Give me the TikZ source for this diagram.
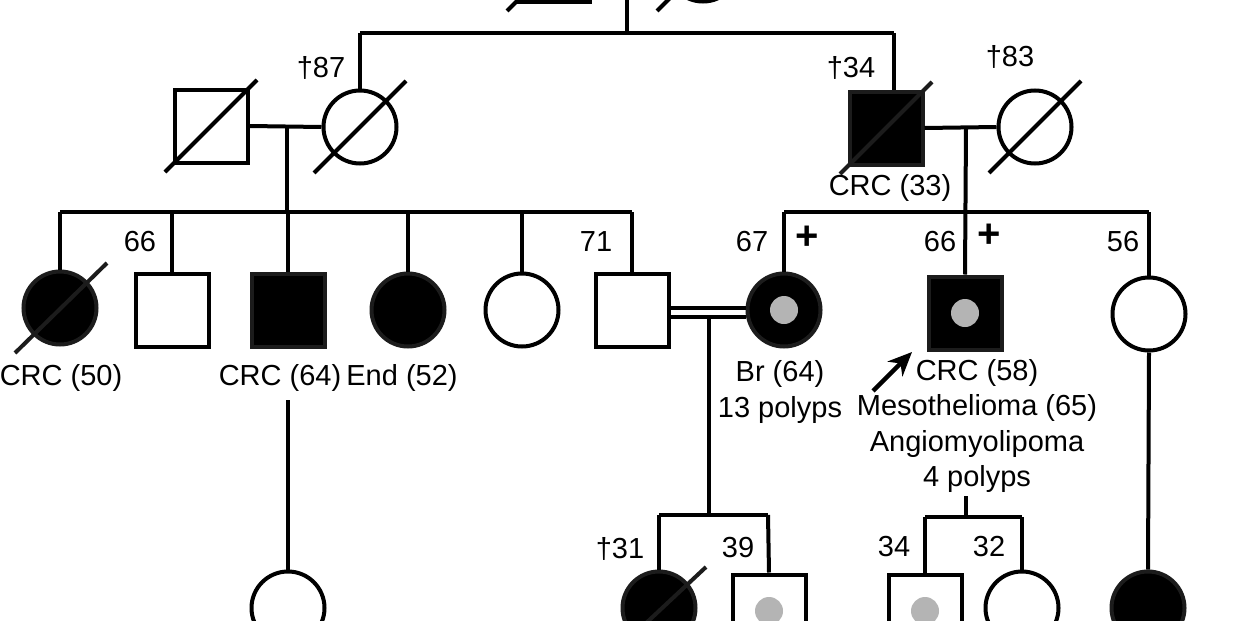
\documentclass[tikz,border=0pt]{standalone}
\usepackage{fontspec}
\setmainfont{Liberation Sans}
\usetikzlibrary{calc,arrows.meta}
\definecolor{dotgray}{HTML}{B4B4B4}
\definecolor{edge}{HTML}{1C1C1C}
\newcommand\dslash[1]{\draw[ln] ($(#1.center)+(-46,46)$) -- ($(#1.center)+(46,-46)$);}
\begin{document}
\begin{tikzpicture}[x=1pt,y=-1pt,
  ln/.style={line width=4pt},
  male/.style={draw, rectangle, minimum size=73pt, inner sep=0pt, line width=4pt, fill=white},
  female/.style={draw, circle, minimum size=73pt, inner sep=0pt, line width=4pt, fill=white},
  aff/.style={fill=black, draw=edge},
  dot/.style={circle, fill=dotgray, minimum size=28pt, inner sep=0pt},
  lab/.style={font=\fontsize{29}{33}\selectfont, inner sep=0pt},
  plus/.style={font=\fontsize{40}{42}\selectfont\bfseries, inner sep=0pt},
]
\useasboundingbox (0,0) rectangle (1242,621);
\clip (0,0) rectangle (1242,621);

% Generation I (cut off at top)
\node[male] (gf) at (553,-35) {};
\node[female] (gm) at (703,-35) {};
\dslash{gf}\dslash{gm}
\draw[ln] (gf.east) -- (gm.west);
\coordinate (m0) at (627,-35);
\coordinate (s0) at (627,33);
\coordinate (s0l) at (360,33);
\coordinate (s0r) at (894,33);
\draw[ln] (m0) -- (s0);
\draw[ln] (s0l) -- (s0r);

% Generation II
\node[male] (A) at (211,126) {};
\node[female] (B) at (360,127) {};
\node[male,aff] (C) at (886,128) {};
\node[female] (D) at (1035,127) {};
\dslash{A}\dslash{B}\dslash{D}
\draw[ln, edge] ($(C.center)+(-46,46)$) -- ($(C.center)+(46,-46)$);
\draw[ln] (s0l) -- (B.north);
\draw[ln] (s0r) -- (s0r |- C.north);
\draw[ln] (A.east) -- (B.west);
\draw[ln] (C.east) -- (D.west);
\coordinate (mAB) at (287,127);
\coordinate (mCD) at (966,128);

\node[lab] (t87) at (321,68) {†87};
\node[lab] (t34) at (851,68) {†34};
\node[lab] (t83) at (1010,57) {†83};
\node[lab] (lC) at (890,188) {CRC (33)};

% Generation III
\coordinate (sl1) at (60,212);
\coordinate (sl2) at (632,212);
\coordinate (sr1) at (784,212);
\coordinate (sr2) at (1149,212);
\draw[ln] (mAB) -- (287,212);
\draw[ln] (sl1) -- (sl2);
\draw[ln] (sr1) -- (sr2);

\node[female,aff] (c1) at (60,308) {};
\node[male] (c2) at (172,310) {};
\node[male,aff] (c3) at (288,310) {};
\node[female,aff] (c4) at (408,310) {};
\node[female] (c5) at (522,310) {};
\node[male] (c6) at (632,310) {};
\node[female,aff] (c7) at (784,310) {};
\node[dot] (c7d) at (784,310) {};
\node[male,aff] (c8) at (965,313) {};
\node[dot] (c8d) at (965,313) {};
\node[female] (c9) at (1149,314) {};
\draw[ln, edge] ($(c1.center)+(-45,45)$) -- ($(c1.center)+(47,-45)$);

\foreach \n in {c1,c2,c3,c4,c5,c6}{\draw[ln] (\n.north |- sl1) -- (\n.north);}
\draw[ln] (sr1) -- (c7.north);
\draw[ln] (sr2) -- (c9.north);
\draw[ln] (mCD) -- (c8.north);

% consanguineous union
\draw[ln] ([yshift=2.5pt]c6.east) -- ([yshift=2.5pt]c7.west);
\draw[ln] ([yshift=-6.5pt]c6.east) -- ([yshift=-6.5pt]c7.west);
\coordinate (m67) at (709,316.5);

\node[lab] (l1) at (61,378) {CRC (50)};
\node[lab] (a2) at (140,242) {66};
\node[lab] (l3) at (280,378) {CRC (64)};
\node[lab] (l4) at (402,378) {End (52)};
\node[lab] (a6) at (596,242) {71};
\node[lab] (a7) at (752,242) {67};
\node[plus] (p7) at (807,238) {+};
\node[lab] (l7a) at (780,374) {Br (64)};
\node[lab] (l7b) at (780,410) {13 polyps};
\node[lab] (a8) at (940,242) {66};
\node[plus] (p8) at (989,236) {+};
\node[lab] (l8a) at (977,373) {CRC (58)};
\node[lab] (l8b) at (977,408) {Mesothelioma (65)};
\node[lab] (l8c) at (977,444) {Angiomyolipoma};
\node[lab] (l8d) at (977,479) {4 polyps};
\node[lab] (a9) at (1123,242) {56};

\coordinate (arrS) at (873,391);
\coordinate (arrE) at (912,352);
\draw[line width=4.5pt, -{Stealth[length=24pt,width=21pt]}] (arrS) -- (arrE);

% Generation IV
\coordinate (c3b) at (288,400);
\node[female] (d1) at (288,608) {};
\draw[ln] (c3b) -- (d1.north);

\coordinate (se) at (709,515);
\coordinate (se1) at (659,515);
\coordinate (se2) at (768,515);
\draw[ln] (m67) -- (se);
\draw[ln] (se1) -- (se2);
\node[female,aff] (e1) at (659,608) {};
\node[male] (e2) at (769,611) {};
\node[dot] (e2d) at (769,611) {};
\draw[ln, edge] ($(e1.center)+(-46,46)$) -- ($(e1.center)+(47,-41)$);
\draw[ln] (se1) -- (e1.north);
\draw[ln] (se2) -- (e2.north);
\node[lab] (a31) at (620,549) {†31};
\node[lab] (a39) at (738,548) {39};

\coordinate (c8b) at (966,496);
\coordinate (sf) at (966,517);
\coordinate (sf1) at (925,517);
\coordinate (sf2) at (1022,517);
\draw[ln] (c8b) -- (sf);
\draw[ln] (sf1) -- (sf2);
\node[male] (f1) at (925,611) {};
\node[dot] (f1d) at (925,611) {};
\node[female] (f2) at (1022,608) {};
\draw[ln] (sf1) -- (f1.north);
\draw[ln] (sf2) -- (f2.north);
\node[lab] (a34) at (894,547) {34};
\node[lab] (a32) at (989,547) {32};

\node[female,aff] (g1) at (1148,608) {};
\draw[ln] (c9.south) -- (g1.north);
\end{tikzpicture}
\end{document}
